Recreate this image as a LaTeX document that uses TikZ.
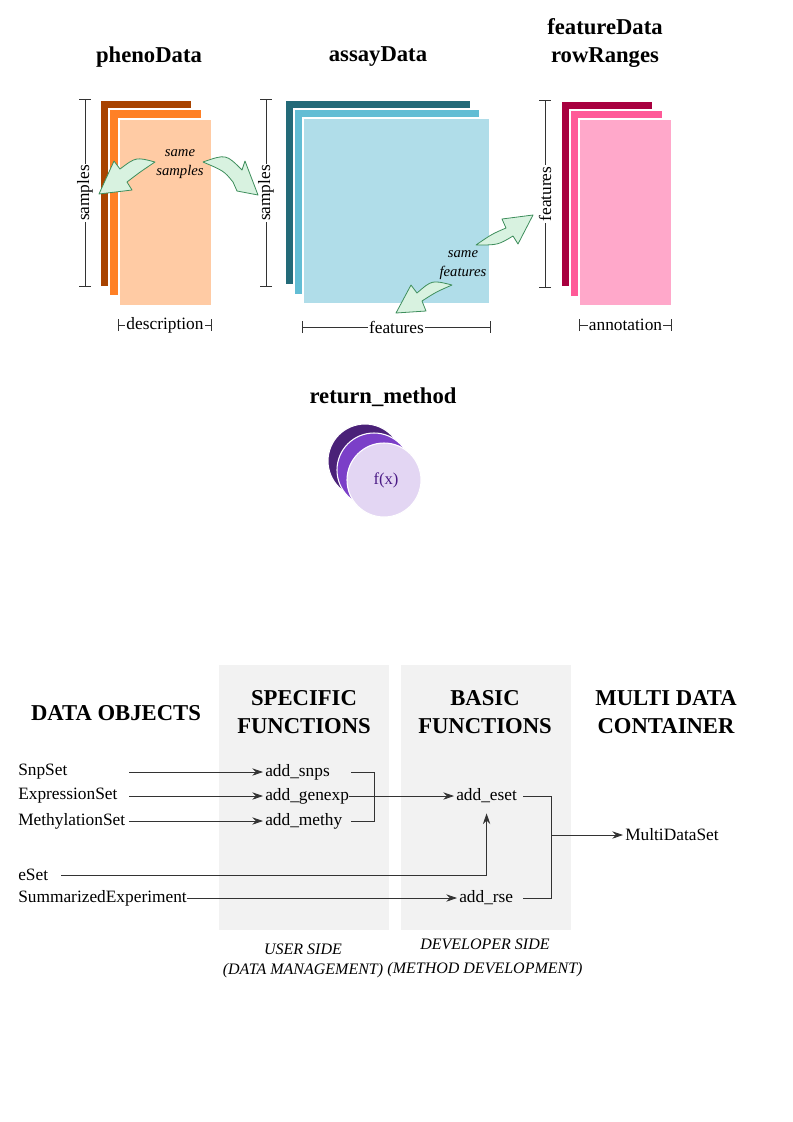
\documentclass[tikz,border=0pt]{standalone}
\usepackage{fontspec}
\setmainfont{Liberation Serif}
\usepackage{tikz}
\usetikzlibrary{arrows.meta, positioning, calc}
\definecolor{phenoA}{HTML}{A84300}
\definecolor{phenoB}{HTML}{FF8026}
\definecolor{phenoC}{HTML}{FFCBA4}
\definecolor{assayA}{HTML}{236A78}
\definecolor{assayB}{HTML}{62BDD4}
\definecolor{assayC}{HTML}{B0DDE9}
\definecolor{featA}{HTML}{A8003F}
\definecolor{featB}{HTML}{FF5A98}
\definecolor{featC}{HTML}{FFA8CA}
\definecolor{methA}{HTML}{4A2178}
\definecolor{methB}{HTML}{7B3FC8}
\definecolor{methC}{HTML}{E3D6F3}
\definecolor{methT}{HTML}{4A1A85}
\definecolor{swooshfill}{HTML}{D8F2E0}
\definecolor{swooshline}{HTML}{3E8E5C}
\definecolor{panelgray}{HTML}{F2F2F2}
\definecolor{linegray}{HTML}{333333}
\tikzset{>={Stealth[length=8pt,width=5.5pt]}}
\tikzset{
  title/.style={font=\fontsize{17}{21}\selectfont\bfseries, align=center},
  sheet/.style={draw=white, line width=0.8pt},
  dimline/.style={{Bar[width=9pt]}-{Bar[width=9pt]}, draw=linegray, line width=0.75pt},
  dimlabel/.style={fill=white, inner sep=1pt, font=\fontsize{13}{15}\selectfont},
  swoosh/.style={fill=swooshfill, draw=swooshline, line width=0.6pt, line join=round},
  note/.style={font=\fontsize{11}{14}\selectfont\itshape, align=center},
  item/.style={anchor=west, inner sep=0pt, font=\fontsize{13}{15}\selectfont},
  flow/.style={->, draw=linegray, line width=0.6pt, shorten >=1.5pt},
  link/.style={draw=linegray, line width=0.6pt},
  side/.style={font=\fontsize{12}{15}\selectfont\itshape, align=center},
}

\begin{document}
\begin{tikzpicture}[x=0.75pt, y=-0.75pt]
	\useasboundingbox (0,0) rectangle (793,1122);

	% titles
	\node [title] (phenotitle) at (149,57) {phenoData};
	\node [title] (assaytitle) at (378,57) {assayData};
	\node [title] (feattitle) at (605,43) {featureData\\rowRanges};

	% phenoData
	\draw [sheet, fill=phenoA] (100,100) rectangle (192,287);
	\draw [sheet, fill=phenoB] (109,109) rectangle (202,296);
	\draw [sheet, fill=phenoC] (119,119) rectangle (212,306);
	\draw [dimline] (85,99) -- node [dimlabel, rotate=90] (phenosmp) {samples} (85,287);
	\draw [dimline] (118,325) -- node [dimlabel] (phenodesc) {description} (212,325);

	% assayData
	\draw [sheet, fill=assayA] (285,100) rectangle (471,285);
	\draw [sheet, fill=assayB] (294,109) rectangle (480,295);
	\draw [sheet, fill=assayC] (303,118) rectangle (490,304);
	\draw [dimline] (266,99) -- node [dimlabel, rotate=90] (assaysmp) {samples} (266,287);
	\draw [dimline] (302,327) -- node [dimlabel] (assayfeat) {features} (491,327);

	% featureData
	\draw [sheet, fill=featA] (561,101) rectangle (653,287);
	\draw [sheet, fill=featB] (570,110) rectangle (663,297);
	\draw [sheet, fill=featC] (579,119) rectangle (672,306);
	\draw [dimline] (545,100) -- node [dimlabel, rotate=90] (featfeat) {features} (545,288);
	\draw [dimline] (579,325) -- node [dimlabel] (featannot) {annotation} (672,325);

	% same samples / same features
	\node [note] (samesmp) at (180,164) {same\\samples};
	\draw [swoosh] (155,162) .. controls (136,157) .. (120,169) -- (114,161) -- (99,194)
		-- (132,190) -- (127,182) .. controls (140,172) .. (155,162) -- cycle;
	\draw [swoosh] (203,162) .. controls (226,154) .. (242,170) -- (245,161) -- (258,195)
		-- (237,191) -- (233,182) .. controls (224,171) .. (203,162) -- cycle;
	\node [note] (samefeat) at (463,265) {same\\features};
	\draw [swoosh] (476,245) .. controls (492,234) .. (506,228) -- (502,219) -- (533,215)
		-- (518,244) -- (513,236) .. controls (498,245) .. (476,245) -- cycle;
	\draw [swoosh] (452,285) .. controls (432,280) .. (417,293) -- (411,285) -- (396,313)
		-- (426,311) -- (422,301) .. controls (436,292) .. (452,285) -- cycle;

	% return_method
	\node [title] (rettitle) at (383,397) {return\_method};
	\draw [sheet, fill=methA] (365,461) circle [radius=37];
	\draw [sheet, fill=methB] (374,470) circle [radius=37];
	\draw [sheet, fill=methC] (384,480) circle [radius=37];
	\node [methT, font=\fontsize{12.5}{15}\selectfont] (fx) at (386,480) {f(x)};

	% panels
	\fill [panelgray] (219,665) rectangle (389,930);
	\fill [panelgray] (401,665) rectangle (571,930);

	\node [title] (dataobj) at (116,713) {DATA OBJECTS};
	\node [title] (specific) at (304,712) {SPECIFIC\\FUNCTIONS};
	\node [title] (basic) at (485,712) {BASIC\\FUNCTIONS};
	\node [title] (multicont) at (666,712) {MULTI DATA\\CONTAINER};

	\node [side] (userside) at (303,961) {USER SIDE\\(DATA MANAGEMENT)};
	\node [side, font=\fontsize{12}{18}\selectfont\itshape] (devside) at (485,958) {DEVELOPER SIDE\\(METHOD DEVELOPMENT)};

	% data objects
	\node [item] (snpset) at (18,772) {SnpSet};
	\node [item] (exprset) at (18,796) {ExpressionSet};
	\node [item] (methyset) at (18,821) {MethylationSet};
	\node [item] (eset) at (18,875) {eSet};
	\node [item] (sumexp) at (18,898) {SummarizedExperiment};

	% functions
	\node [item] (addsnps) at (265,772) {add\_snps};
	\node [item] (addgenexp) at (265,796) {add\_genexp};
	\node [item] (addmethy) at (265,821) {add\_methy};
	\node [item] (addeset) at (456,796) {add\_eset};
	\node [item] (addrse) at (459,898) {add\_rse};
	\node [item] (multi) at (625,835) {MultiDataSet};

	\coordinate (srcx) at (129,0);
	\coordinate (bxa) at (351,0);
	\coordinate (joina) at (374,0);
	\coordinate (bxb) at (523,0);
	\coordinate (joinb) at (551,0);

	\draw [flow] (snpset -| srcx) -- (addsnps.west);
	\draw [flow] (exprset -| srcx) -- (addgenexp.west);
	\draw [flow] (methyset -| srcx) -- (addmethy.west);
	\draw [link] (addsnps -| bxa) -- (addsnps -| joina) -- (addmethy -| joina) -- (addmethy -| bxa);
	\draw [flow] (addgenexp.east) -- (addeset.west);
	\draw [flow, shorten <=9.75pt] (eset.east) -| ([yshift=-6pt]addeset.south);
	\draw [flow] (sumexp.east) -- (addrse.west);
	\draw [link] (addeset -| bxb) -- (addeset -| joinb) -- (addrse -| joinb) -- (addrse -| bxb);
	\draw [flow] (multi -| joinb) -- (multi.west);

\end{tikzpicture}
\end{document}
